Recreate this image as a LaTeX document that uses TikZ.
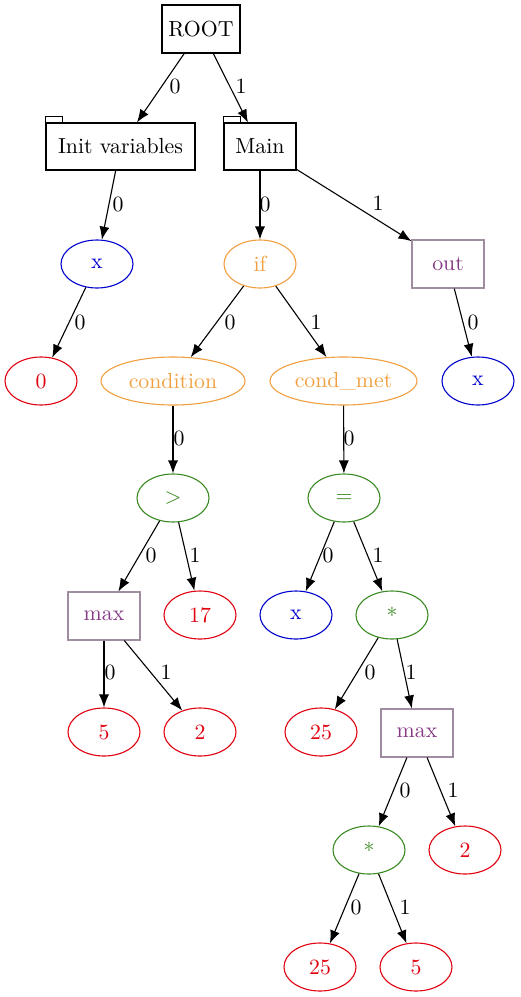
\documentclass[tikz,border=0pt]{standalone}
\usetikzlibrary{arrows.meta,shapes.geometric}
\definecolor{cred}{HTML}{E00010}
\definecolor{cblue}{HTML}{0000CC}
\definecolor{corange}{HTML}{F0A040}
\definecolor{cgreen}{HTML}{3A8A22}
\definecolor{cpurple}{HTML}{843A84}
\definecolor{cpurpleline}{HTML}{A08CA0}
\begin{document}
\begin{tikzpicture}[x=0.5pt,y=-0.5pt,
  every node/.style={font=\fontsize{10.9}{13}\selectfont},
  box/.style={draw, line width=0.55pt, rectangle, inner sep=0pt, minimum width=36pt, minimum height=24pt},
  oval/.style={draw, line width=0.55pt, ellipse, inner sep=0pt, minimum width=36pt, minimum height=24pt},
  lit/.style={oval, draw=cred, text=cred},
  var/.style={oval, draw=cblue, text=cblue},
  ctl/.style={oval, draw=corange, text=corange},
  op/.style={oval, draw=cgreen, text=cgreen},
  fn/.style={box, draw=cpurpleline, text=cpurple},
  edge/.style={draw, line width=0.55pt, -{Latex[length=6.5pt,width=5pt]}},
  elab/.style={inner sep=0pt}
]
\useasboundingbox (0,0) rectangle (520,997);

% top level blocks
\node[box, minimum width=39pt] (root) at (201,29) {ROOT};
\node[box, minimum width=74.5pt, minimum height=23.5pt] (init) at (120.5,146.5) {Init variables};
\node[box, minimum height=23.5pt] (main) at (260,146.5) {Main};
% folder tabs
\draw[line width=0.55pt] (init.north west) -- ++(0,-6) -- ++(17,0) -- ++(0,6);
\draw[line width=0.55pt] (main.north west) -- ++(0,-6) -- ++(17,0) -- ++(0,6);

% init branch
\node[var] (x1) at (97,264) {x};
\node[lit] (z0) at (41,381) {0};

% main branch
\node[ctl] (if) at (260,264) {if};
\node[fn] (out) at (448,264) {out};
\node[ctl, minimum width=72pt] (cond) at (173,381) {condition};
\node[ctl, minimum width=73.5pt] (met) at (343.5,381) {cond\_met};
\node[var] (x3) at (478,381) {x};

% condition subtree
\node[op] (gt) at (173,498) {>};
\node[fn] (max1) at (104,616) {max};
\node[lit] (n17) at (200,615) {17};
\node[lit] (n5a) at (104,732) {5};
\node[lit] (n2a) at (200,732) {2};

% assignment subtree
\node[op] (eq) at (344,498) {=};
\node[var] (x2) at (296,615) {x};
\node[op] (mul1) at (392,615) {*};
\node[lit] (n25a) at (321,732) {25};
\node[fn] (max2) at (417,733) {max};
\node[op] (mul2) at (369,850) {*};
\node[lit] (n2b) at (465,850) {2};
\node[lit] (n25b) at (320,967) {25};
\node[lit] (n5b) at (416,967) {5};

% connectors
\draw[edge] (root) -- (init) node[elab] at (175,86) {0};
\draw[edge] (root) -- (main) node[elab] at (241,86) {1};
\draw[edge] (init) -- (x1) node[elab] at (118,204) {0};
\draw[edge] (x1) -- (z0) node[elab] at (80,322) {0};
\draw[edge] (main) -- (if) node[elab] at (265,204) {0};
\draw[edge] (main) -- (out) node[elab] at (378,203) {1};
\draw[edge] (if) -- (cond) node[elab] at (230,322) {0};
\draw[edge] (if) -- (met) node[elab] at (316,322) {1};
\draw[edge] (out) -- (x3) node[elab] at (473,322) {0};
\draw[edge] (cond) -- (gt) node[elab] at (179,438) {0};
\draw[edge] (met) -- (eq) node[elab] at (349,438) {0};
\draw[edge] (gt) -- (max1) node[elab] at (151,555) {0};
\draw[edge] (gt) -- (n17) node[elab] at (195,555) {1};
\draw[edge] (eq) -- (x2) node[elab] at (328,555) {0};
\draw[edge] (eq) -- (mul1) node[elab] at (378,555) {1};
\draw[edge] (max1) -- (n5a) node[elab] at (110,672) {0};
\draw[edge] (max1) -- (n2a) node[elab] at (166,672) {1};
\draw[edge] (mul1) -- (n25a) node[elab] at (370,672) {0};
\draw[edge] (mul1) -- (max2) node[elab] at (411,672) {1};
\draw[edge] (max2) -- (mul2) node[elab] at (405,790) {0};
\draw[edge] (max2) -- (n2b) node[elab] at (453,790) {1};
\draw[edge] (mul2) -- (n25b) node[elab] at (356,907) {0};
\draw[edge] (mul2) -- (n5b) node[elab] at (405,907) {1};
\end{tikzpicture}
\end{document}
